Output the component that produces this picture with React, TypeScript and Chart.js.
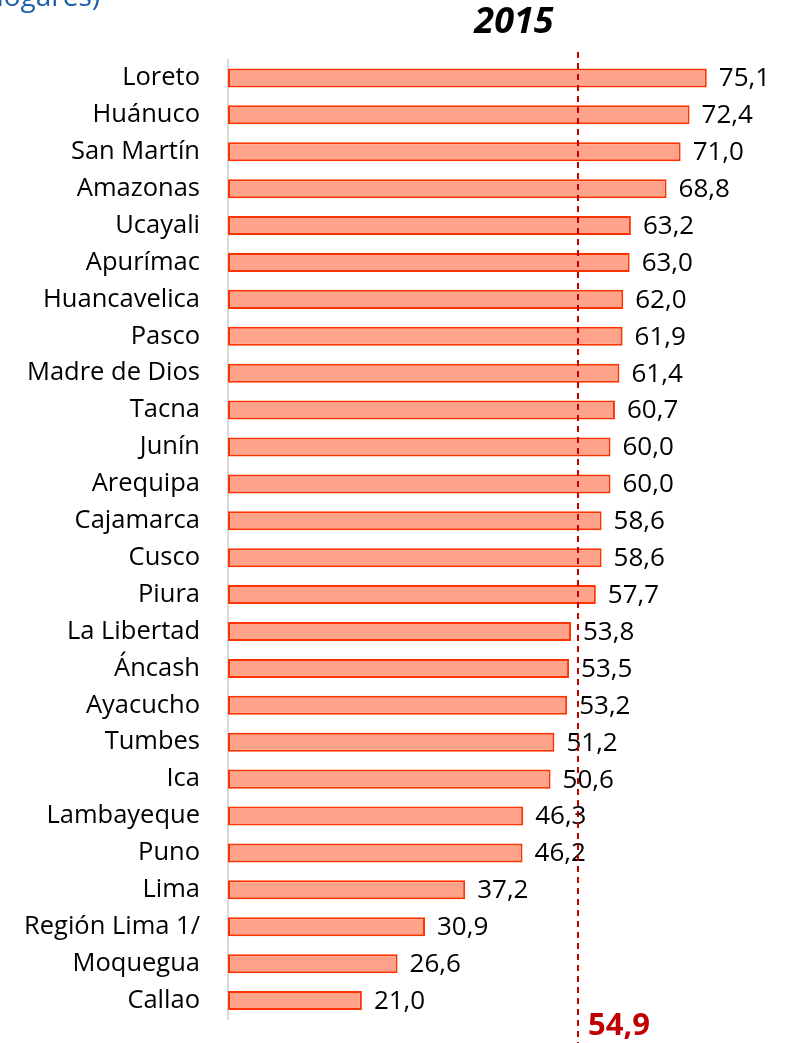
import React, { useEffect, useRef } from "react";
import { Chart, registerables } from "chart.js";

Chart.register(...registerables);

const regions = [
  "Loreto", "Huánuco", "San Martín", "Amazonas", "Ucayali", "Apurímac",
  "Huancavelica", "Pasco", "Madre de Dios", "Tacna", "Junín", "Arequipa",
  "Cajamarca", "Cusco", "Piura", "La Libertad", "Áncash", "Ayacucho",
  "Tumbes", "Ica", "Lambayeque", "Puno", "Lima", "Región Lima 1/",
  "Moquegua", "Callao",
];
const values = [
  75.1, 72.4, 71.0, 68.8, 63.2, 63.0, 62.0, 61.9, 61.4, 60.7, 60.0, 60.0,
  58.6, 58.6, 57.7, 53.8, 53.5, 53.2, 51.2, 50.6, 46.3, 46.2, 37.2, 30.9,
  26.6, 21.0,
];
const averageValue = 54.9;
const titleText = "2015";
const topText = "hogares)";

const fmt = (v: number) => v.toFixed(1).replace(".", ",");

export default function App() {
  const ref = useRef<HTMLCanvasElement | null>(null);

  useEffect(() => {
    const canvas = ref.current;
    if (!canvas) return;

    const overlay = {
      id: "overlay",
      afterDatasetsDraw(chart: any) {
        const { ctx } = chart;
        const xs = chart.scales.x;
        const meta = chart.getDatasetMeta(0);
        ctx.save();
        // value labels
        ctx.font = "26px 'Open Sans'";
        ctx.fillStyle = "#000000";
        ctx.textAlign = "left";
        ctx.textBaseline = "middle";
        meta.data.forEach((bar: any, i: number) => {
          ctx.fillText(fmt(values[i]), bar.x + 12, bar.y + 1);
        });
        // average dashed line
        const ax = xs.getPixelForValue(averageValue);
        ctx.strokeStyle = "#C00000";
        ctx.lineWidth = 2;
        ctx.setLineDash([6, 5]);
        ctx.beginPath();
        ctx.moveTo(ax, 52);
        ctx.lineTo(ax, chart.height);
        ctx.stroke();
        ctx.setLineDash([]);
        ctx.font = "bold 31px 'Open Sans'";
        ctx.fillStyle = "#C00000";
        ctx.textAlign = "left";
        ctx.textBaseline = "alphabetic";
        ctx.fillText(fmt(averageValue), ax + 10, 1035);
        // title
        ctx.font = "italic bold 36px 'Open Sans'";
        ctx.fillStyle = "#000000";
        ctx.textAlign = "center";
        ctx.fillText(titleText, 514, 33);
        // clipped top text
        ctx.font = "28px 'Open Sans'";
        ctx.fillStyle = "#1F5FA8";
        ctx.textAlign = "right";
        ctx.fillText(topText, 100, 6);
        ctx.restore();
      },
    };

    const chart = new Chart(canvas, {
      type: "bar",
      data: {
        labels: regions,
        datasets: [
          {
            data: values,
            backgroundColor: "#FFA38A",
            borderColor: "#FF3300",
            borderWidth: 2,
            borderSkipped: false,
            categoryPercentage: 1,
            barPercentage: 0.515,
          },
        ],
      },
      options: {
        indexAxis: "y",
        responsive: false,
        animation: false,
        layout: { padding: { top: 59.5, bottom: 24, left: 0, right: 51 } },
        plugins: {
          legend: { display: false },
          tooltip: { enabled: false },
          title: { display: false },
        },
        scales: {
          x: {
            display: false,
            min: 0,
            max: 80,
          },
          y: {
            afterFit: (s: any) => {
              s.width = 228;
            },
            grid: { display: false, drawTicks: true, tickLength: 28 },
            border: { display: true, color: "#D9D9D9", width: 2 },
            ticks: {
              padding: 0,
              color: "#000000",
              font: { family: "'Open Sans'", size: 25.5 },
            },
          },
        },
      },
      plugins: [overlay],
    });

    return () => chart.destroy();
  }, []);

  return (
    <div style={{ position: "fixed", left: 0, top: 0, width: 789, height: 1043, background: "#ffffff" }}>
      <canvas ref={ref} width={789} height={1043} />
    </div>
  );
}
